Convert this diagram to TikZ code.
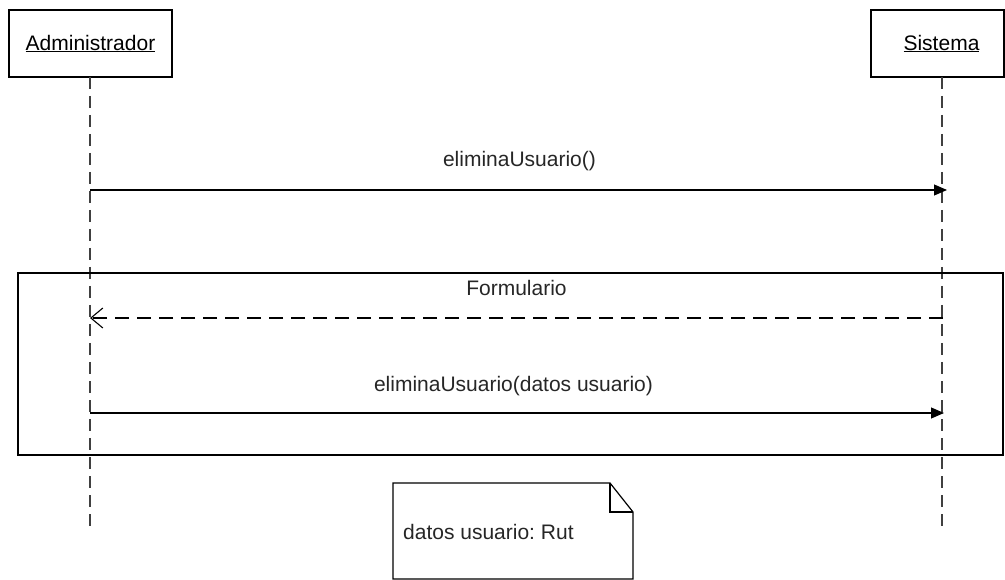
\documentclass[tikz,border=0pt]{standalone}
\usepackage{fontspec}
\setmainfont{Liberation Sans}
\usetikzlibrary{arrows.meta,positioning}
\frenchspacing

\tikzset{
  actor/.style={draw, line width=1.6pt, minimum height=67pt, inner sep=0pt, font=\fontsize{21}{25}\selectfont},
  lifeline/.style={line width=1.3pt, black!75, dash pattern=on 12pt off 7pt},
  msg/.style={line width=1.1pt, -{Triangle[length=13pt,width=11pt]}},
  reply/.style={line width=1.1pt, dash pattern=on 14pt off 8pt, -{Straight Barb[length=12pt,width=20pt,line width=1.1pt]}},
  lbl/.style={font=\fontsize{21}{25}\selectfont, text=black!85, inner sep=0pt}
}

\begin{document}
\begin{tikzpicture}[x=1pt,y=-1pt]
    \useasboundingbox (0,0) rectangle (1005,580);
    % participants
    \node[actor, minimum width=163pt] (admin) at (90.5,43.5) {\underline{Administrador}};
    \node[actor, minimum width=133pt] (sistema) at (937.5,43.5) {\hspace*{8pt}\underline{Sistema}};
    \coordinate (adminTop) at (90,77);
    \coordinate (sistemaTop) at (942,77);
    \coordinate (adminEnd) at (90,530);
    \coordinate (sistemaEnd) at (942,530);
    \draw[lifeline] (adminTop) -- (adminEnd);
    \draw[lifeline] (sistemaTop) -- (sistemaEnd);

    % frame
    \node[draw, line width=1.2pt, minimum width=985pt, minimum height=182pt, inner sep=0pt] (frame) at (510.5,364) {};

    % messages
    \foreach \n/\x/\y in {m1/947/190, m2/943/318, m3/944/413} {
        \coordinate (a\n) at (90,\y);
        \coordinate (s\n) at (\x,\y);
    }
    \draw[msg] (am1) -- (sm1);
    \draw[reply] (sm2) -- (am2);
    \draw[msg] (am3) -- (sm3);
    \node[lbl] (l1) at (519.5,161) {eliminaUsuario()};
    \node[lbl] (l2) at (516.5,288) {Formulario};
    \node[lbl] (l3) at (513.5,386) {eliminaUsuario(datos usuario)};

    % note
    \draw[line width=1.2pt] (393,483) -- (610,483) -- (633,512) -- (633,579) -- (393,579) -- cycle;
    \draw[line width=1.2pt] (610,483) -- (610,512) -- (633,512);
    \node[lbl, anchor=west] (note) at (403,532) {datos usuario: Rut};
\end{tikzpicture}
\end{document}
